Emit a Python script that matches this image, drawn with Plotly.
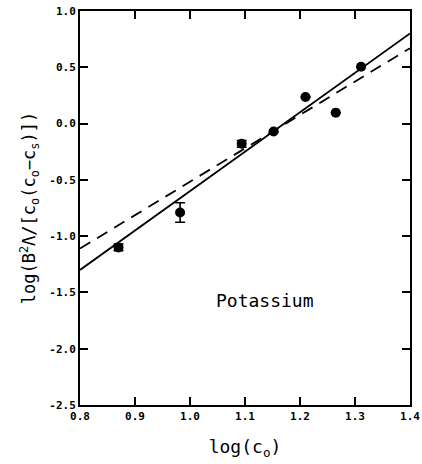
import plotly.graph_objects as go

# Data
log_c0 = [0.87, 0.982, 1.094, 1.152, 1.210, 1.265, 1.311]
log_val = [-1.10, -0.79, -0.18, -0.07, 0.236, 0.097, 0.505]
err = [0.03, 0.087, 0.03, 0, 0, 0, 0]

fit_x = [0.8, 1.4]
solid_fit_y = [-1.30, 0.80]
dashed_fit_y = [-1.11, 0.67]

x_ticks = [0.8, 0.9, 1.0, 1.1, 1.2, 1.3, 1.4]
x_ticklabels = ["0.8", "0.9", "1.0", "1.1", "1.2", "1.3", "1.4"]
y_ticks = [1.0, 0.5, 0.0, -0.5, -1.0, -1.5, -2.0, -2.5]
y_ticklabels = ["1.0", "0.5", "0.0", "-0.5", "-1.0", "-1.5", "-2.0", "-2.5"]

label_font = "DejaVu Sans Mono"

fig = go.Figure()
fig.add_trace(go.Scatter(x=fit_x, y=solid_fit_y, mode="lines",
                         line=dict(color="black", width=1.8), showlegend=False))
fig.add_trace(go.Scatter(x=fit_x, y=dashed_fit_y, mode="lines",
                         line=dict(color="black", width=1.8, dash="12px,8px"), showlegend=False))
fig.add_trace(go.Scatter(
    x=log_c0, y=log_val, mode="markers",
    marker=dict(color="black", size=10, symbol="circle"),
    error_y=dict(type="data", array=err, visible=True, color="black", thickness=1.6, width=5),
    showlegend=False))

fig.add_annotation(x=1.137, y=-1.57, text="Potassium", showarrow=False,
                   font=dict(family=label_font, size=18, color="black"))

axis_common = dict(
    showline=True, linecolor="black", linewidth=2, mirror="ticks",
    ticks="inside", ticklen=8, tickwidth=2, tickcolor="black",
    showgrid=False, zeroline=False,
    tickfont=dict(family=label_font, size=11, color="black", weight="bold"),
)

fig.update_xaxes(range=[0.8, 1.4], tickvals=x_ticks, ticktext=x_ticklabels,
                 title=dict(text="log(c<sub>o</sub>)", font=dict(family=label_font, size=18, color="black"),
                            standoff=18),
                 **axis_common)
fig.update_yaxes(range=[-2.5, 1.0], tickvals=y_ticks, ticktext=y_ticklabels,
                 title=dict(text="log(B<sup>2</sup>Λ/[c<sub>o</sub>(c<sub>o</sub>−c<sub>s</sub>)])",
                            font=dict(family=label_font, size=17, color="black"), standoff=9),
                 **axis_common)

fig.update_layout(width=422, height=464, margin=dict(l=80, r=12, t=11, b=59, autoexpand=False),
                  paper_bgcolor="white", plot_bgcolor="white")

fig.write_html("out.html")
